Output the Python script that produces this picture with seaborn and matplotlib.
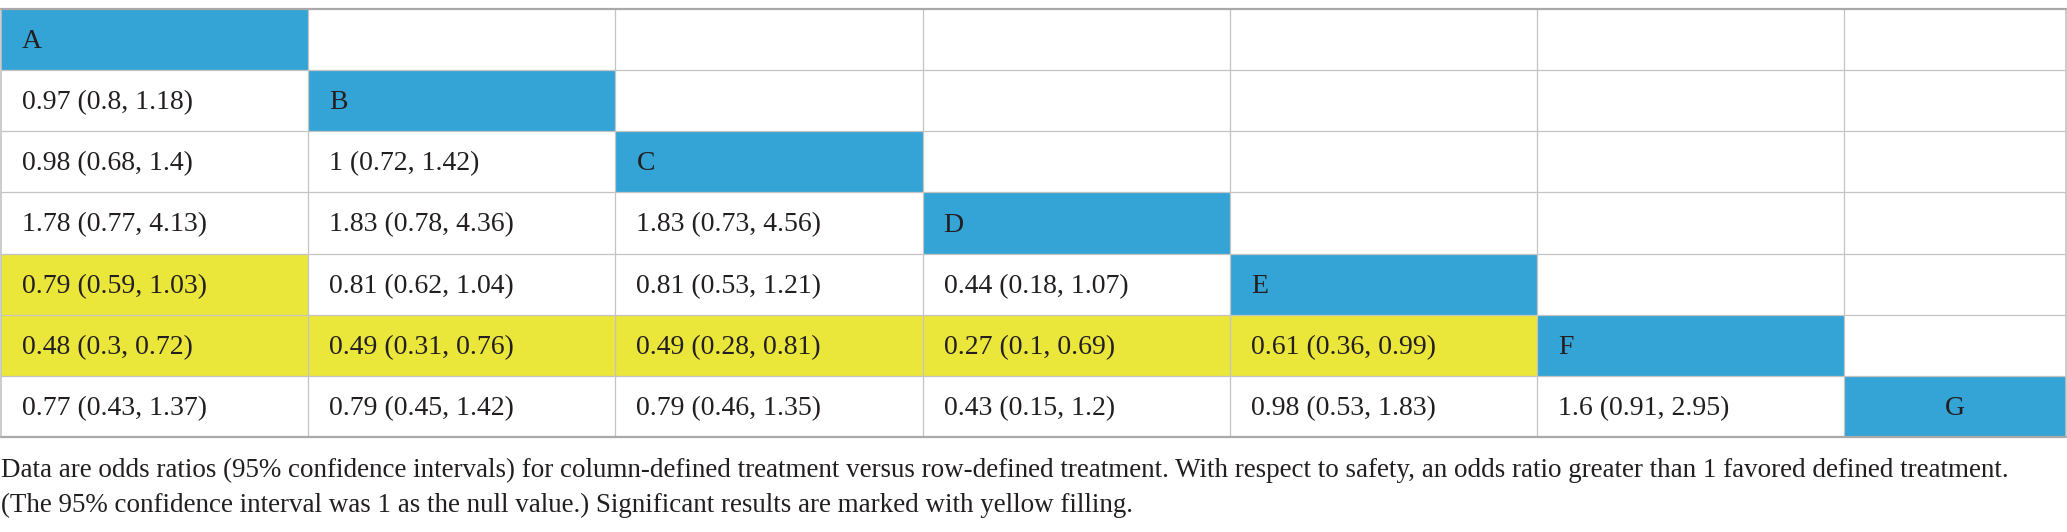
import numpy as np
import matplotlib
matplotlib.use('Agg')
import matplotlib.pyplot as plt
import seaborn as sns
from matplotlib.colors import ListedColormap
from matplotlib.transforms import offset_copy

# treatments on the diagonal
treatments = ["A", "B", "C", "D", "E", "F", "G"]

# odds ratios (95% CI), lower triangle, row by row
or_row_b = ["0.97 (0.8, 1.18)"]
or_row_c = ["0.98 (0.68, 1.4)", "1 (0.72, 1.42)"]
or_row_d = ["1.78 (0.77, 4.13)", "1.83 (0.78, 4.36)", "1.83 (0.73, 4.56)"]
or_row_e = ["0.79 (0.59, 1.03)", "0.81 (0.62, 1.04)", "0.81 (0.53, 1.21)", "0.44 (0.18, 1.07)"]
or_row_f = ["0.48 (0.3, 0.72)", "0.49 (0.31, 0.76)", "0.49 (0.28, 0.81)", "0.27 (0.1, 0.69)",
            "0.61 (0.36, 0.99)"]
or_row_g = ["0.77 (0.43, 1.37)", "0.79 (0.45, 1.42)", "0.79 (0.46, 1.35)", "0.43 (0.15, 1.2)",
            "0.98 (0.53, 1.83)", "1.6 (0.91, 2.95)"]
odds_ratios = [[], or_row_b, or_row_c, or_row_d, or_row_e, or_row_f, or_row_g]

# cells marked significant (row, col)
significant = [(4, 0), (5, 0), (5, 1), (5, 2), (5, 3), (5, 4)]

footnote = [
    "Data are odds ratios (95% confidence intervals) for column-defined treatment versus row-defined treatment. "
    "With respect to safety, an odds ratio greater than 1 favored defined treatment.",
    "(The 95% confidence interval was 1 as the null value.) Significant results are marked with yellow filling.",
]

BLUE = "#34a3d5"
YELLOW = "#eae63a"
TEXT = "#231f20"
GRID = "#c4c4c4"

sns.set_style("white")
plt.rcParams['font.family'] = ['Liberation Serif', 'DejaVu Serif']

W, H = 2067, 532
fig = plt.figure(figsize=(W / 100, H / 100), dpi=100)
top_px, bot_px = 9, 437
ax = fig.add_axes([1 / W, 1 - bot_px / H, (W - 2) / W, (bot_px - top_px) / H])

n = len(treatments)
status = np.zeros((n, n), dtype=int)
for i in range(n):
    status[i, i] = 1
for r, c in significant:
    status[r, c] = 2

# last column is narrower, so repeat sub-columns to get the widths
col_units = [18] * (n - 1) + [13]
expanded = np.repeat(status, col_units, axis=1)
sns.heatmap(expanded, cmap=ListedColormap(["white", BLUE, YELLOW]), vmin=-0.5, vmax=2.5,
            cbar=False, xticklabels=False, yticklabels=False, linewidths=0, ax=ax)

edges = np.concatenate([[0], np.cumsum(col_units)])

# grid lines
for e in edges[1:-1]:
    ax.axvline(e, color=GRID, lw=0.9)
for e in (edges[0], edges[-1]):
    ax.axvline(e, color=GRID, lw=1.2, clip_on=False)
for y in range(1, n):
    ax.axhline(y, color=GRID, lw=0.9)
for y in (0, n):
    ax.axhline(y, color="#a9a9a9", lw=1.6, clip_on=False)
for s in ax.spines.values():
    s.set_visible(False)

pad = offset_copy(ax.transData, fig=fig, x=21, y=-2, units='dots')
mid = offset_copy(ax.transData, fig=fig, x=0, y=-2, units='dots')
fs = 20
for i in range(n):
    for j, txt in enumerate(odds_ratios[i]):
        ax.text(edges[j], i + 0.5, txt, transform=pad, ha='left', va='center',
                fontsize=fs, color=TEXT)
    if i == n - 1:
        ax.text((edges[i] + edges[i + 1]) / 2, i + 0.5, treatments[i], transform=mid,
                ha='center', va='center', fontsize=fs, color=TEXT)
    else:
        ax.text(edges[i], i + 0.5, treatments[i], transform=pad, ha='left', va='center',
                fontsize=fs, color=TEXT)

fig.text(1 / W, 1 - 477 / H, footnote[0], ha='left', va='baseline', fontsize=19.45, color=TEXT)
fig.text(1 / W, 1 - 512 / H, footnote[1], ha='left', va='baseline', fontsize=19.45, color=TEXT)

fig.savefig("out.png", dpi=100)
